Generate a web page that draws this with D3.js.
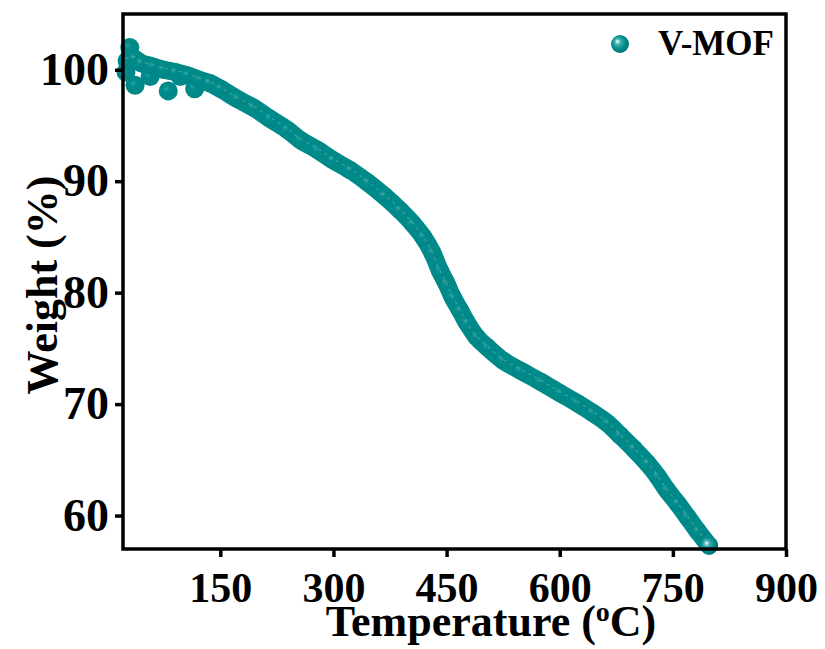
<!DOCTYPE html>
<html>
<head>
<meta charset="utf-8">
<script src="https://cdn.jsdelivr.net/npm/d3@7"></script>
<style>
  body { margin: 0; background: #fff; }
  svg { display: block; font-family: 'Liberation Serif', 'Times New Roman', serif; font-weight: bold; }
</style>
</head>
<body>
<svg class="tga-ch"></svg>
<script>
"use strict";

// TGA readings, V-MOF (temperature in C, weight in %)
var temp = [26, 36, 45, 60, 75, 90, 106, 122, 136, 150, 172, 194, 216, 239, 256, 279, 299, 322, 345, 367,
  388, 405, 419, 431, 441, 450, 458, 468, 477, 490, 504, 525, 548, 575, 600, 623, 644, 663, 680, 698,
  716, 730, 742, 756, 769, 783, 798];
var weight = [100.8, 101.0, 100.6, 100.3, 100.0, 99.8, 99.5, 99.1, 98.8, 98.3, 97.4, 96.6, 95.6, 94.6, 93.7, 92.8, 91.9, 91.0, 89.9, 88.7,
  87.4, 86.2, 85.0, 83.6, 82.0, 80.8, 79.6, 78.4, 77.3, 76.0, 75.1, 73.9, 73.0, 72.0, 71.0, 70.1, 69.2, 68.3, 67.2, 66.0,
  64.7, 63.5, 62.3, 61.1, 59.9, 58.6, 57.3];

// scattered early readings (moisture noise)
var noiseTemp = [25, 30, 37, 57, 81, 97, 116];
var noiseWeight = [99.8, 102.0, 98.6, 99.4, 98.1, 99.4, 98.3];

var xTicks = [150, 300, 450, 600, 750, 900];
var yTicks = [60, 70, 80, 90, 100];
var seriesName = 'V-MOF';

var teal = '#008b8b';

var svg = d3.select('.tga-ch')
  .attr('width', 825)
  .attr('height', 649);

var padLeft = 123, padRight = 786, padTop = 14, padBottom = 549;

var x = d3.scaleLinear()
  .domain([21, 900])
  .range([padLeft, padRight]);

var y = d3.scaleLinear()
  .domain([57, 105])
  .range([padBottom, padTop]);

var defs = svg.append('defs');

var soft = defs.append('radialGradient')
  .attr('id', 'ballSoft')
  .attr('cx', '45%').attr('cy', '45%').attr('r', '60%')
  .attr('fx', '38%').attr('fy', '38%');
soft.append('stop').attr('offset', '0%').attr('stop-color', '#2f9f9f');
soft.append('stop').attr('offset', '30%').attr('stop-color', teal);
soft.append('stop').attr('offset', '100%').attr('stop-color', '#008585');

var ball = defs.append('radialGradient')
  .attr('id', 'ball')
  .attr('cx', '45%').attr('cy', '45%').attr('r', '60%')
  .attr('fx', '35%').attr('fy', '35%');
ball.append('stop').attr('offset', '0%').attr('stop-color', '#f2ffff');
ball.append('stop').attr('offset', '30%').attr('stop-color', '#39a9a9');
ball.append('stop').attr('offset', '65%').attr('stop-color', teal);
ball.append('stop').attr('offset', '100%').attr('stop-color', '#006f6f');

var data = temp.map(function(t, i){ return {t: t, w: weight[i]}; });
var noise = noiseTemp.map(function(t, i){ return {t: t, w: noiseWeight[i]}; });

var chart = svg.append('g');

var line = d3.line()
  .x(function(d){ return x(d.t); })
  .y(function(d){ return y(d.w); })
  .curve(d3.curveCatmullRom);

chart.append('path')
  .datum(data)
  .attr('d', line)
  .attr('fill', 'none')
  .attr('stroke', teal)
  .attr('stroke-width', 18)
  .attr('stroke-linecap', 'round')
  .attr('stroke-linejoin', 'round');

chart.append('g').selectAll('circle')
  .data(noise)
  .enter().append('circle')
    .attr('cx', function(d){ return x(d.t); })
    .attr('cy', function(d){ return y(d.w); })
    .attr('r', 9.5)
    .attr('fill', 'url(#ballSoft)');

chart.append('g').selectAll('circle')
  .data(data)
  .enter().append('circle')
    .attr('cx', function(d){ return x(d.t); })
    .attr('cy', function(d){ return y(d.w); })
    .attr('r', 9)
    .attr('fill', function(d, i){ return i === data.length - 1 ? 'url(#ball)' : 'url(#ballSoft)'; });

// faint highlight streak along the band
chart.append('path')
  .datum(data)
  .attr('d', line)
  .attr('fill', 'none')
  .attr('stroke', '#5fb7b7')
  .attr('stroke-width', 1.2)
  .attr('stroke-dasharray', '3,4')
  .attr('opacity', 0.6)
  .attr('transform', 'translate(-1,-2)');

// axes
var xAxis = d3.axisBottom(x)
  .tickValues(xTicks)
  .tickSize(8)
  .tickSizeOuter(0)
  .tickPadding(15);

var yAxis = d3.axisLeft(y)
  .tickValues(yTicks)
  .tickSize(8)
  .tickSizeOuter(0)
  .tickPadding(6);

var gx = svg.append('g')
  .attr('transform', 'translate(0,' + padBottom + ')')
  .call(xAxis);

var gy = svg.append('g')
  .attr('transform', 'translate(' + padLeft + ',0)')
  .call(yAxis);

[gx, gy].forEach(function(g){
  g.select('.domain').remove();
  g.selectAll('line').attr('stroke', '#000').attr('stroke-width', 3.5);
  g.selectAll('text')
    .attr('fill', '#000')
    .style('font-family', "'Liberation Serif', serif")
    .style('font-weight', 'bold');
});
gx.selectAll('text').style('font-size', '42px');
gy.selectAll('text').style('font-size', '46px');

svg.append('rect')
  .attr('x', padLeft)
  .attr('y', padTop)
  .attr('width', padRight - padLeft)
  .attr('height', padBottom - padTop)
  .attr('fill', 'none')
  .attr('stroke', '#000')
  .attr('stroke-width', 3.5);

// titles
var xt = svg.append('text')
  .attr('x', 491)
  .attr('y', 636)
  .attr('text-anchor', 'middle')
  .style('font-size', '44px');
xt.append('tspan').text('Temperature (');
xt.append('tspan').text('o').attr('dy', -15).style('font-size', '28px');
xt.append('tspan').text('C)').attr('dy', 15);

svg.append('text')
  .attr('transform', 'translate(57,285) rotate(-90)')
  .attr('text-anchor', 'middle')
  .style('font-size', '44px')
  .text('Weight (%)');

// legend
svg.append('circle')
  .attr('cx', 620)
  .attr('cy', 44)
  .attr('r', 9)
  .attr('fill', 'url(#ball)');

svg.append('text')
  .attr('x', 658)
  .attr('y', 55)
  .style('font-size', '35px')
  .text(seriesName);
</script>
</body>
</html>
